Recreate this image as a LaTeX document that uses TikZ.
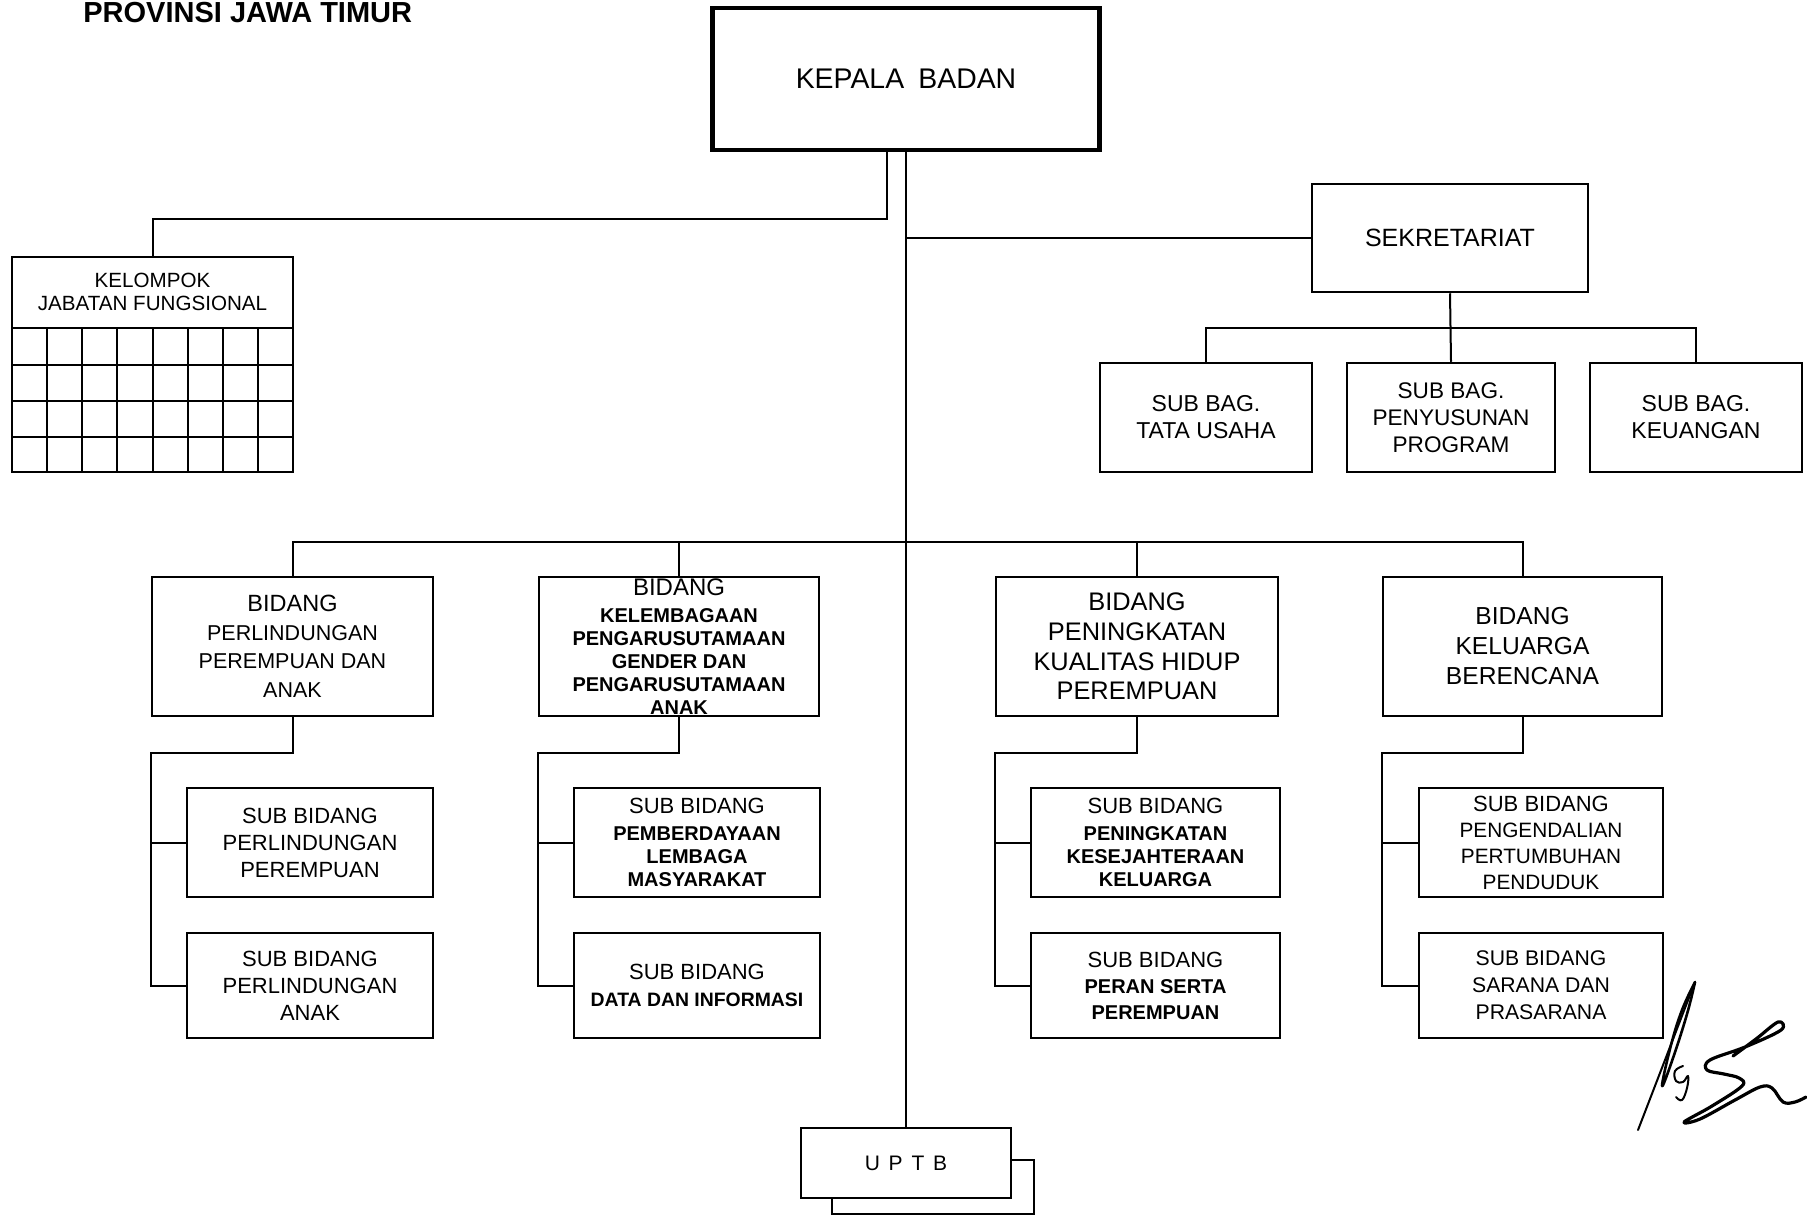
\documentclass[tikz,border=0pt]{standalone}
\usepackage{fontspec}
\setmainfont{Liberation Sans}
\usetikzlibrary{calc}
\newcommand\setfs[2]{\fontsize{#1}{#2}\selectfont}
\tikzset{
  box/.style={draw, line width=1.25pt, rectangle, inner sep=0pt, align=center, fill=white},
  conn/.style={line width=1pt},
  sig/.style={line width=1.3pt, line cap=round, line join=round},
}
\begin{document}
\begin{tikzpicture}[x=0.5pt,y=-0.5pt]
\useasboundingbox (0,0) rectangle (1807,1216);
\fill[white] (0,0) rectangle (1807,1216);
\clip (0,0) rectangle (1807,1216);

% heading
\node[anchor=base west, inner sep=0pt, font=\setfs{14.5}{17}\bfseries] (title) at (83,22) {PROVINSI JAWA TIMUR};

% head of office
\node[box, line width=2.2pt, minimum width=193.5pt, minimum height=71pt, font=\setfs{14.2}{17}] (kepala) at (906,79) {KEPALA\hspace{0.5em}BADAN};

% functional group with its grid
\node[box, minimum width=140.5pt, minimum height=107.5pt] (kjf) at (152.5,364.5) {};
\draw[line width=1pt] (12,328) -- (293,328);
\foreach \r in {365,401,437} \draw[line width=1pt] (12,\r) -- (293,\r);
\foreach \c in {1,...,7} \draw[line width=1pt] (12+\c*35.125,328) -- (12+\c*35.125,472);
\node[align=center, inner sep=0pt, font=\setfs{10.3}{11.5}] (kjftext) at (152.5,292) {KELOMPOK\\JABATAN FUNGSIONAL};

% secretariat
\node[box, minimum width=138pt, minimum height=54pt, font=\setfs{12.5}{14}] (sekr) at (1450,238) {SEKRETARIAT};
\node[box, minimum width=106pt, minimum height=54.5pt, font=\setfs{11.5}{13.5}] (sb1) at (1206,417.5) {SUB BAG.\\TATA USAHA};
\node[box, minimum width=104pt, minimum height=54.5pt, font=\setfs{11.3}{13.5}] (sb2) at (1451,417.5) {SUB BAG.\\PENYUSUNAN\\PROGRAM};
\node[box, minimum width=106pt, minimum height=54.5pt, font=\setfs{11.5}{13.5}] (sb3) at (1696,417.5) {SUB BAG.\\KEUANGAN};

% divisions
\node[box, minimum width=140.5pt, minimum height=69.5pt, font=\setfs{10.75}{14.25}] (b1) at (292.5,646.5)
  {{\setfs{11.75}{14}BIDANG}\\PERLINDUNGAN\\PEREMPUAN DAN\\ANAK};
\node[box, minimum width=140pt, minimum height=69.5pt, font=\setfs{10}{11.5}\bfseries] (b2) at (679,646.5)
  {{\setfs{12}{14}\mdseries BIDANG}\\[2pt]KELEMBAGAAN\\PENGARUSUTAMAAN\\GENDER DAN\\PENGARUSUTAMAAN\\ANAK};
\node[box, minimum width=141pt, minimum height=69.5pt, font=\setfs{12.7}{14.8}] (b3) at (1137,646.5)
  {BIDANG\\PENINGKATAN\\KUALITAS HIDUP\\PEREMPUAN};
\node[box, minimum width=139.5pt, minimum height=69.5pt, font=\setfs{12.3}{15}] (b4) at (1522.5,646.5)
  {BIDANG\\KELUARGA\\BERENCANA};

% sub-divisions
\node[box, minimum width=123pt, minimum height=54.5pt, font=\setfs{11}{13.5}] (s11) at (310,842.5) {SUB BIDANG\\PERLINDUNGAN\\PEREMPUAN};
\node[box, minimum width=123pt, minimum height=52.5pt, font=\setfs{11}{13.5}] (s12) at (310,985.5) {SUB BIDANG\\PERLINDUNGAN\\ANAK};
\node[box, minimum width=123pt, minimum height=54.5pt, font=\setfs{10}{11.5}\bfseries] (s21) at (697,842.5)
  {{\setfs{11}{13}\mdseries SUB BIDANG}\\[2pt]PEMBERDAYAAN\\LEMBAGA\\MASYARAKAT};
\node[box, minimum width=123pt, minimum height=52.5pt, font=\setfs{9.7}{13.5}\bfseries] (s22) at (697,985.5)
  {{\setfs{11}{13.5}\mdseries SUB BIDANG}\\DATA DAN INFORMASI};
\node[box, minimum width=124.5pt, minimum height=54.5pt, font=\setfs{10}{11.5}\bfseries] (s31) at (1155.5,842.5)
  {{\setfs{11}{13}\mdseries SUB BIDANG}\\[2pt]PENINGKATAN\\KESEJAHTERAAN\\KELUARGA};
\node[box, minimum width=124.5pt, minimum height=52.5pt, font=\setfs{10}{13}\bfseries] (s32) at (1155.5,985.5)
  {{\setfs{11}{13}\mdseries SUB BIDANG}\\PERAN SERTA\\PEREMPUAN};
\node[box, minimum width=122pt, minimum height=54.5pt, font=\setfs{10.4}{13}] (s41) at (1541,842.5)
  {{\setfs{11}{13}SUB BIDANG}\\PENGENDALIAN\\PERTUMBUHAN\\PENDUDUK};
\node[box, minimum width=122pt, minimum height=52.5pt, font=\setfs{10.6}{13.5}] (s42) at (1541,985.5)
  {SUB BIDANG\\SARANA DAN\\PRASARANA};

% technical unit, with its offset back sheet
\draw[line width=1.25pt, fill=white] (832,1160) rectangle (1034,1214);
\node[box, minimum width=105pt, minimum height=35pt, font=\setfs{10.5}{12}] (uptb) at (906,1163)
  {U\hspace{0.42em}P\hspace{0.42em}T\hspace{0.42em}B};

% connectors
\draw[conn] (kepala.south) -- (uptb.north);
\draw[conn] ([xshift=-9.5pt]kepala.south) -- ++(0,67) -| (kjf.north);
\draw[conn] (kepala.south |- sekr.west) -- (sekr.west);
\coordinate (sbar) at ($(sekr.south)!0.5!(sb2.north)$);
\draw[conn] (sekr.south) -- (sb2.north);
\draw[conn] (sb1.north) |- (sbar) -| (sb3.north);
\coordinate (bbar) at (906,542);
\draw[conn] (b1.north) |- (bbar) -| (b4.north);
\draw[conn] (b2.north) -- (b2.north |- bbar);
\draw[conn] (b3.north) -- (b3.north |- bbar);
\foreach \b in {1,2,3,4}{
  \draw[conn] (b\b.south) -- ++(0,36) -| (s\b2.west -| b\b.west) -- (s\b2.west);
  \draw[conn] (s\b1.west -| b\b.west) -- (s\b1.west);
}

% signature
\draw[sig, line width=1pt] (1695,982) -- (1638,1130);
\draw[sig] plot[smooth, tension=0.7] coordinates {(1695,982) (1682,1010) (1671,1045) (1662,1086) (1673,1058) (1687,1014) (1695,982)};
\draw[sig, line width=1pt] plot[smooth, tension=0.7] coordinates {(1683,1066) (1675,1071) (1676,1081) (1683,1082) (1688,1076) (1687,1088) (1682,1100) (1676,1097)};
\draw[sig, line width=1.6pt] plot[smooth, tension=0.6] coordinates {(1733,1056) (1756,1039) (1778,1022) (1781,1030) (1745,1047) (1710,1060) (1707,1070) (1724,1074) (1739,1078) (1742,1086) (1712,1106) (1684,1122) (1700,1119) (1735,1100) (1760,1087) (1772,1088) (1783,1102) (1795,1102) (1806,1097)};
\end{tikzpicture}
\end{document}
